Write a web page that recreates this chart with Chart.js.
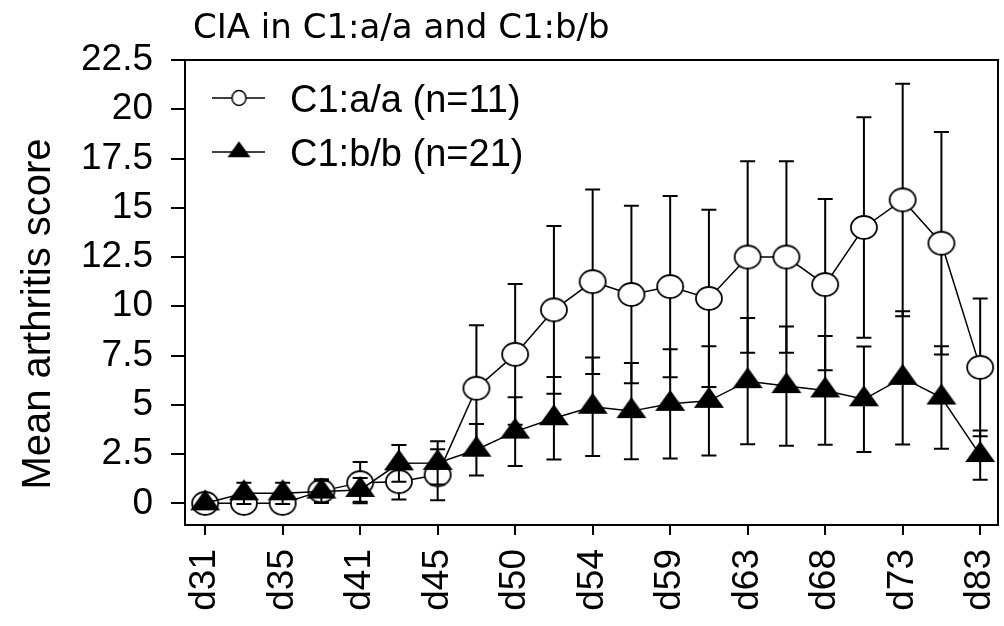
<!DOCTYPE html>
<html>
<head>
<meta charset="utf-8">
<title>CIA in C1:a/a and C1:b/b</title>
<script src="https://cdn.jsdelivr.net/npm/chart.js@4.4.1/dist/chart.umd.min.js"></script>
<style>
  html, body { margin: 0; padding: 0; background: #fff; overflow: hidden; }
  canvas { display: block; }
</style>
</head>
<body>
<canvas id="cia-chart" width="1004" height="626"></canvas>
<script>
// 21 scoring days, only every other one carries a label
const timePoints = [0, 1, 2, 3, 4, 5, 6, 7, 8, 9, 10, 11, 12, 13, 14, 15, 16, 17, 18, 19, 20];
const xTickLabels = ['d31', 'd35', 'd41', 'd45', 'd50', 'd54', 'd59', 'd63', 'd68', 'd73', 'd83'];
const yTicks = [0, 2.5, 5, 7.5, 10, 12.5, 15, 17.5, 20, 22.5];

// C1:a/a (n=11), open circles
const aaMean = [0, 0, 0, 0.62, 1.05, 1.1, 1.45, 5.84, 7.56, 9.82, 11.25, 10.6, 11.0, 10.4, 12.5, 12.5, 11.1, 14.0, 15.4, 13.2, 6.9];
const aaErr  = [0.05, 0.05, 0.1, 0.6, 1.05, 0.9, 1.3, 3.2, 3.57, 4.26, 4.68, 4.5, 4.6, 4.5, 4.86, 4.86, 4.35, 5.6, 5.9, 5.65, 3.5];

// C1:b/b (n=21), filled triangles
const bbMean = [0, 0.51, 0.51, 0.6, 0.68, 2.03, 2.05, 2.72, 3.64, 4.32, 4.9, 4.68, 5.05, 5.2, 6.2, 5.95, 5.73, 5.28, 6.37, 5.37, 2.45];
const bbErr  = [0.1, 0.54, 0.54, 0.55, 0.6, 0.93, 1.1, 1.31, 1.75, 2.09, 2.5, 2.44, 2.77, 2.77, 3.2, 3.03, 2.76, 2.68, 3.38, 2.6, 1.25];

const FONT = '"Liberation Sans", Arial, sans-serif';

// markers in the original are a bit squashed, so draw them as sprites
function ellipseSprite(w, h, lw) {
  const c = document.createElement('canvas');
  c.width = Math.ceil(w + lw * 2);
  c.height = Math.ceil(h + lw * 2);
  const g = c.getContext('2d');
  g.beginPath();
  g.ellipse(c.width / 2, c.height / 2, w / 2, h / 2, 0, 0, Math.PI * 2);
  g.fillStyle = '#fff';
  g.fill();
  g.lineWidth = lw;
  g.strokeStyle = '#000';
  g.stroke();
  return c;
}

function triangleSprite(w, h) {
  // centroid on the canvas centre, same as chart.js' own triangle
  const c = document.createElement('canvas');
  c.width = Math.ceil(w + 2);
  c.height = Math.ceil(h * 4 / 3 + 2);
  const g = c.getContext('2d');
  const cx = c.width / 2, cy = c.height / 2;
  g.beginPath();
  g.moveTo(cx, cy - h * 2 / 3);
  g.lineTo(cx + w / 2, cy + h / 3);
  g.lineTo(cx - w / 2, cy + h / 3);
  g.closePath();
  g.fillStyle = '#000';
  g.fill();
  return c;
}

const circleBig = ellipseSprite(26, 23, 1.8);
const circleSmall = ellipseSprite(14, 15, 1.5);
const triBig = triangleSprite(30, 21);
const triSmall = triangleSprite(23, 16);

const errorBars = {
  id: 'errorBars',
  beforeDatasetDraw(chart, args) {
    const ds = chart.data.datasets[args.index];
    if (!ds.errors) return;
    const ctx = chart.ctx;
    const xs = chart.scales.x, ys = chart.scales.y;
    ctx.save();
    ctx.strokeStyle = '#000';
    ctx.lineWidth = 2;
    ds.data.forEach((p, i) => {
      const e = ds.errors[i];
      const px = xs.getPixelForValue(p.x);
      const top = ys.getPixelForValue(p.y + e);
      const bot = ys.getPixelForValue(p.y - e);
      ctx.beginPath();
      ctx.moveTo(px, top); ctx.lineTo(px, bot);
      ctx.moveTo(px - 7.5, top); ctx.lineTo(px + 7.5, top);
      ctx.moveTo(px - 7.5, bot); ctx.lineTo(px + 7.5, bot);
      ctx.stroke();
    });
    ctx.restore();
  }
};

const decorations = {
  id: 'decorations',
  afterDraw(chart) {
    const ctx = chart.ctx;
    const area = chart.chartArea;
    ctx.save();
    // top and right edges of the box
    ctx.strokeStyle = '#000';
    ctx.lineWidth = 2;
    ctx.beginPath();
    ctx.moveTo(area.left, area.top);
    ctx.lineTo(area.right, area.top);
    ctx.lineTo(area.right, area.bottom);
    ctx.stroke();

    ctx.fillStyle = '#000';
    ctx.font = '34px "DejaVu Sans", sans-serif';
    ctx.textBaseline = 'alphabetic';
    ctx.textAlign = 'left';
    ctx.fillText('CIA in C1:a/a and C1:b/b', 193, 38);

    ctx.save();
    ctx.translate(50, 314);
    ctx.rotate(-Math.PI / 2);
    ctx.textAlign = 'center';
    ctx.font = '40px ' + FONT;
    ctx.fillText('Mean arthritis score', 0, 0);
    ctx.restore();

    // legend
    const rows = [
      {label: 'C1:a/a (n=11)', sprite: circleSmall, y: 98},
      {label: 'C1:b/b (n=21)', sprite: triSmall, y: 152}
    ];
    ctx.font = '38px ' + FONT;
    ctx.textBaseline = 'middle';
    rows.forEach(r => {
      ctx.lineWidth = 1.5;
      ctx.beginPath();
      ctx.moveTo(212, r.y);
      ctx.lineTo(265, r.y);
      ctx.stroke();
      ctx.drawImage(r.sprite, 239 - r.sprite.width / 2, r.y - r.sprite.height / 2);
      ctx.fillText(r.label, 290, r.y + 4);
    });
    ctx.restore();
  }
};

new Chart(document.getElementById('cia-chart'), {
  type: 'line',
  data: {
    datasets: [
      {
        label: 'C1:a/a (n=11)',
        data: timePoints.map((t, i) => ({x: t, y: aaMean[i]})),
        errors: aaErr,
        borderColor: '#000',
        borderWidth: 1.5,
        pointStyle: circleBig,
        pointRadius: 12,
        order: 1
      },
      {
        label: 'C1:b/b (n=21)',
        data: timePoints.map((t, i) => ({x: t, y: bbMean[i]})),
        errors: bbErr,
        borderColor: '#000',
        borderWidth: 1.5,
        pointStyle: triBig,
        pointRadius: 12,
        order: 0
      }
    ]
  },
  options: {
    responsive: false,
    animation: false,
    devicePixelRatio: 1,
    // the big markers would otherwise pull the right edge in
    layout: {autoPadding: false, padding: {top: 60, right: 6, left: 0, bottom: 0}},
    plugins: {
      legend: {display: false},
      tooltip: {enabled: false}
    },
    scales: {
      x: {
        type: 'linear',
        min: -0.52,
        max: 20.46,
        afterBuildTicks: s => { s.ticks = xTickLabels.map((l, i) => ({value: i * 2})); },
        afterFit: s => {
          s.height = 101;
          // rotated end labels would otherwise shrink the plot box
          s.paddingLeft = 0;
          s.paddingRight = 0;
        },
        border: {color: '#000', width: 2},
        grid: {drawOnChartArea: false, tickLength: 10, color: '#000', lineWidth: 2},
        ticks: {
          autoSkip: false,
          minRotation: 90,
          maxRotation: 90,
          padding: 14,
          color: '#000',
          font: {family: FONT, size: 37},
          callback: (v, i) => xTickLabels[i]
        }
      },
      y: {
        min: -1.1,
        max: 22.5,
        afterBuildTicks: s => { s.ticks = yTicks.map(v => ({value: v})); },
        afterFit: s => {
          s.width = 185;
          s.paddingTop = 0;
          s.paddingBottom = 0;
        },
        border: {color: '#000', width: 2},
        grid: {drawOnChartArea: false, tickLength: 14, color: '#000', lineWidth: 2},
        ticks: {
          padding: 18,
          color: '#000',
          font: {family: FONT, size: 37},
          callback: v => String(v)
        }
      }
    }
  },
  plugins: [errorBars, decorations]
});
</script>
</body>
</html>
